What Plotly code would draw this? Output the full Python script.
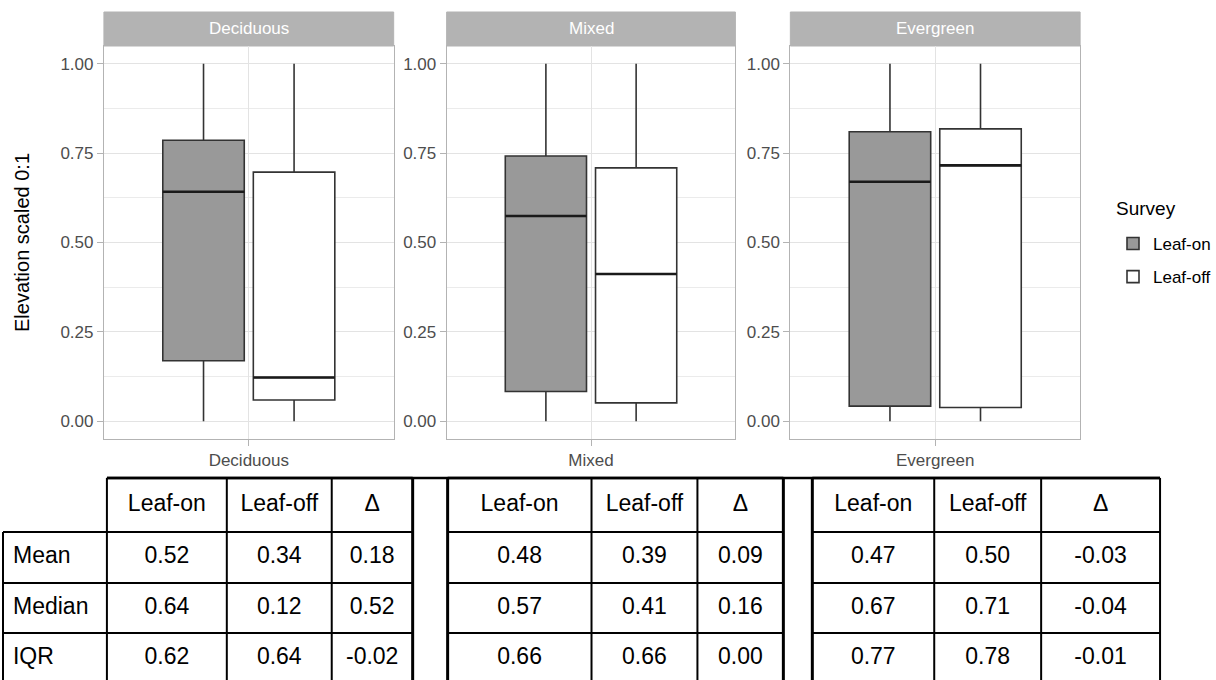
import plotly.graph_objects as go

# ---------------- data ----------------
forest_types = ["Deciduous", "Mixed", "Evergreen"]
surveys = ["Leaf-on", "Leaf-off"]

leafon_lower = [0.0, 0.0, 0.0]
leafon_q1 = [0.169, 0.083, 0.042]
leafon_median = [0.642, 0.574, 0.670]
leafon_q3 = [0.786, 0.742, 0.810]
leafon_upper = [1.0, 1.0, 1.0]

leafoff_lower = [0.0, 0.0, 0.0]
leafoff_q1 = [0.059, 0.051, 0.038]
leafoff_median = [0.122, 0.412, 0.716]
leafoff_q3 = [0.697, 0.709, 0.818]
leafoff_upper = [1.0, 1.0, 1.0]

y_ticks = [0.0, 0.25, 0.5, 0.75, 1.0]
y_tick_labels = ["0.00", "0.25", "0.50", "0.75", "1.00"]

stat_names = ["Mean", "Median", "IQR"]
table_header = ["", "Leaf-on", "Leaf-off", "Δ", "", "Leaf-on", "Leaf-off", "Δ",
                "", "Leaf-on", "Leaf-off", "Δ"]
dec_on = [0.52, 0.64, 0.62]
dec_off = [0.34, 0.12, 0.64]
dec_delta = [0.18, 0.52, -0.02]
mix_on = [0.48, 0.57, 0.66]
mix_off = [0.39, 0.41, 0.66]
mix_delta = [0.09, 0.16, 0.00]
eve_on = [0.47, 0.67, 0.77]
eve_off = [0.50, 0.71, 0.78]
eve_delta = [-0.03, -0.04, -0.01]

# ---------------- style / layout constants ----------------
W, H = 1216, 680
FONT = "Arial, Liberation Sans, sans-serif"
ON_FILL, OFF_FILL = "#999999", "#FFFFFF"
BOX_LINE = "#333333"
GRID = "#E3E3E3"
BORDER = "#B3B3B3"
TICKTXT = "#4D4D4D"

panel_px = [(104, 394), (447, 736), (791, 1081)]
plot_top, plot_bot = 46, 439
strip_top = 12
dodge = 0.1875
box_w = 0.3375

# table geometry (pixels)
col_edges = [3, 107, 227, 332, 413, 448, 592, 698, 784, 813, 935, 1042, 1161]
row_edges = [478, 532, 583, 633, 683]
sep_cols = {4, 8}


def px_x(v):
    return v / W


def px_y(v):
    return 1 - v / H


fig = go.Figure()

series = [
    ("Leaf-on", ON_FILL, -dodge, leafon_lower, leafon_q1, leafon_median, leafon_q3, leafon_upper),
    ("Leaf-off", OFF_FILL, dodge, leafoff_lower, leafoff_q1, leafoff_median, leafoff_q3, leafoff_upper),
]

for i, ft in enumerate(forest_types):
    xa = "x" if i == 0 else f"x{i+1}"
    ya = "y" if i == 0 else f"y{i+1}"
    for name, fill, off, lo, q1, med, q3, up in series:
        pos = 1 + off
        fig.add_trace(go.Box(
            x=[pos], q1=[q1[i]], median=[med[i]], q3=[q3[i]],
            lowerfence=[lo[i]], upperfence=[up[i]],
            width=box_w, whiskerwidth=0,
            fillcolor=fill, line=dict(color=BOX_LINE, width=1.6),
            name=name, legendgroup=name, showlegend=(i == 0),
            boxpoints=False, xaxis=xa, yaxis=ya, hoverinfo="skip",
        ))
        # thicker median line (as in ggplot)
        fig.add_trace(go.Scatter(
            x=[pos - box_w / 2, pos + box_w / 2], y=[med[i], med[i]],
            mode="lines", line=dict(color="#1A1A1A", width=2.6),
            showlegend=False, hoverinfo="skip", xaxis=xa, yaxis=ya,
        ))

layout_axes = {}
for i, ft in enumerate(forest_types):
    x0, x1 = panel_px[i]
    xkey = "xaxis" if i == 0 else f"xaxis{i+1}"
    ykey = "yaxis" if i == 0 else f"yaxis{i+1}"
    xa_ref = "y" if i == 0 else f"y{i+1}"
    ya_ref = "x" if i == 0 else f"x{i+1}"
    layout_axes[xkey] = dict(
        domain=[px_x(x0), px_x(x1)], anchor=xa_ref, range=[0.4, 1.6],
        tickvals=[1], ticktext=[ft], showgrid=True, gridcolor=GRID, gridwidth=1,
        zeroline=False, showline=True, mirror=True, linecolor=BORDER, linewidth=1,
        ticks="outside", ticklen=6, tickcolor=BORDER, tickwidth=1,
        tickfont=dict(family=FONT, size=17, color=TICKTXT), automargin=False,
        fixedrange=True,
    )
    layout_axes[ykey] = dict(
        domain=[px_y(plot_bot), px_y(plot_top)], anchor=ya_ref, range=[-0.05, 1.05],
        tickvals=y_ticks, ticktext=y_tick_labels, showgrid=True, gridcolor=GRID,
        gridwidth=1, zeroline=False, showline=True, mirror=True, linecolor=BORDER,
        linewidth=1, ticks="outside", ticklen=6, tickcolor=BORDER, tickwidth=1,
        tickfont=dict(family=FONT, size=17, color=TICKTXT), automargin=False,
        minor=dict(tickvals=[0.125, 0.375, 0.625, 0.875], showgrid=True,
                   gridcolor="#EBEBEB", gridwidth=1, ticks=""),
        fixedrange=True,
    )
    if i == 0:
        layout_axes[ykey]["title"] = dict(
            text="Elevation scaled 0:1", font=dict(family=FONT, size=20, color="#000000"),
            standoff=25)

shapes = []
annotations = []
for i, ft in enumerate(forest_types):
    xd = "x domain" if i == 0 else f"x{i+1} domain"
    shapes.append(dict(type="rect", xref=xd, yref="paper", x0=0, x1=1,
                       y0=px_y(plot_top), y1=px_y(strip_top),
                       fillcolor="#B3B3B3", line=dict(color="#B3B3B3", width=1), layer="below"))
    annotations.append(dict(xref=xd, yref="paper", x=0.5, y=px_y((strip_top + plot_top) / 2),
                            text=ft, showarrow=False, xanchor="center", yanchor="middle",
                            font=dict(family=FONT, size=17, color="#FFFFFF")))

# legend title
annotations.append(dict(xref="paper", yref="paper", x=px_x(1115), y=px_y(208),
                        text="Survey", showarrow=False, xanchor="left", yanchor="middle",
                        font=dict(family=FONT, size=19, color="#000000")))

# ---------------- table (own axis whose units are pixels) ----------------
def fmt(vals):
    return [f"{v:.2f}" for v in vals]

blank = ["", "", ""]
table_body = [stat_names, fmt(dec_on), fmt(dec_off), fmt(dec_delta), blank,
              fmt(mix_on), fmt(mix_off), fmt(mix_delta), blank,
              fmt(eve_on), fmt(eve_off), fmt(eve_delta)]

tbl_top_px = 470
row_centers = [(row_edges[r] + row_edges[r + 1]) / 2 for r in range(len(row_edges) - 1)]
for k, (head, body) in enumerate(zip(table_header, table_body)):
    if k in sep_cols:
        continue
    texts = [head] + body
    if k == 0:
        xs = [col_edges[0] + 10] * len(texts)
        tpos = "middle right"
    else:
        xs = [(col_edges[k] + col_edges[k + 1]) / 2] * len(texts)
        tpos = "middle center"
    fig.add_trace(go.Scatter(
        x=xs, y=row_centers, text=texts, mode="text", textposition=tpos,
        textfont=dict(family=FONT, size=23, color="#000000"),
        showlegend=False, hoverinfo="skip", xaxis="x4", yaxis="y4", cliponaxis=False,
    ))

layout_axes["xaxis4"] = dict(domain=[0, 1], range=[0, W], anchor="y4", visible=False,
                             fixedrange=True)
layout_axes["yaxis4"] = dict(domain=[0, px_y(tbl_top_px)], range=[H, tbl_top_px],
                             anchor="x4", visible=False, fixedrange=True)

TL = dict(color="#000000", width=2)
TL_SEP = dict(color="#000000", width=3)
blocks = [(0, 4), (5, 8), (9, 12)]   # column index ranges [start, end)
for (c0, c1) in blocks:
    xl, xr = col_edges[c0], col_edges[c1]
    for r, yv in enumerate(row_edges):
        x_start = col_edges[1] if (c0 == 0 and r == 0) else xl
        shapes.append(dict(type="line", xref="x4", yref="y4", x0=x_start, x1=xr,
                           y0=yv, y1=yv, line=dict(color="#000000", width=2.5 if r == 0 else 2)))
    for c in range(c0, c1 + 1):
        y_start = row_edges[1] if c == 0 else row_edges[0]
        is_sep_edge = (c in sep_cols) or (c - 1 in sep_cols)
        shapes.append(dict(type="line", xref="x4", yref="y4", x0=col_edges[c], x1=col_edges[c],
                           y0=y_start, y1=row_edges[-1], line=TL_SEP if is_sep_edge else TL))
# top border continuing across the separator gaps
shapes.append(dict(type="line", xref="x4", yref="y4", x0=col_edges[1], x1=col_edges[-1],
                   y0=row_edges[0], y1=row_edges[0], line=dict(color="#000000", width=2.5)))

fig.update_layout(
    width=W, height=H, margin=dict(l=0, r=0, t=0, b=0),
    paper_bgcolor="white", plot_bgcolor="white",
    boxmode="overlay", shapes=shapes, annotations=annotations,
    font=dict(family=FONT),
    legend=dict(
        font=dict(family=FONT, size=17, color="#000000"),
        x=px_x(1114), xanchor="left", y=px_y(226), yanchor="top",
        tracegroupgap=8, bgcolor="rgba(0,0,0,0)",
    ),
    **layout_axes,
)

fig.write_html("out.html", config={"displayModeBar": False},
               post_script="document.body.style.margin='0px';")
